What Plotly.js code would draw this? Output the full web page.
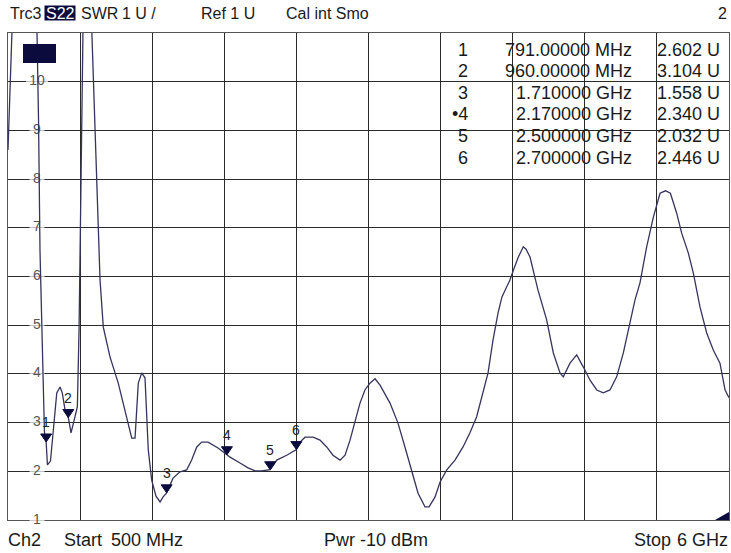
<!DOCTYPE html>
<html><head><meta charset="utf-8">
<script src="https://cdn.plot.ly/plotly-3.0.1.min.js"></script>
<style>html,body{margin:0;padding:0;background:#fff}#chart{width:731px;height:553px}</style>
</head><body><div id="chart"></div>
<script>
// ---- data ----
const freqGHz = [
  0.5, 0.515, 0.53, 0.56, 0.70, 0.72, 0.733, 0.744, 0.759, 0.778,
  0.791, 0.801, 0.824, 0.846, 0.872, 0.897, 0.914, 0.935, 0.96, 0.981,
  1.011, 1.029, 1.042, 1.049, 1.061, 1.072, 1.103, 1.139, 1.171, 1.202,
  1.227, 1.278, 1.341, 1.418, 1.444, 1.469, 1.494, 1.52, 1.545, 1.57,
  1.596, 1.629, 1.66, 1.682, 1.71, 1.759, 1.812, 1.863, 1.901, 1.94,
  1.978, 2.026, 2.064, 2.102, 2.17, 2.194, 2.27, 2.331, 2.384, 2.435,
  2.5, 2.55, 2.626, 2.7, 2.728, 2.766, 2.827, 2.88, 2.931, 2.979,
  3.033, 3.071, 3.109, 3.147, 3.185, 3.223, 3.261, 3.3, 3.338, 3.414,
  3.475, 3.528, 3.58, 3.628, 3.681, 3.712, 3.757, 3.796, 3.847, 3.91,
  3.971, 4.024, 4.075, 4.123, 4.162, 4.2, 4.238, 4.268, 4.329, 4.355,
  4.393, 4.431, 4.452, 4.482, 4.505, 4.543, 4.609, 4.66, 4.711, 4.736,
  4.787, 4.838, 4.889, 4.94, 4.991, 5.041, 5.092, 5.143, 5.194, 5.245,
  5.283, 5.321, 5.372, 5.423, 5.474, 5.515, 5.553, 5.601, 5.639, 5.69,
  5.728, 5.779, 5.83, 5.88, 5.931, 5.97, 6.0
];
const swr = [
  8.6, 9.83, 11.0, 12.0, 12.0, 11.2, 9.21, 6.54, 4.70, 2.81,
  2.602, 2.13, 2.21, 2.85, 3.61, 3.73, 3.61, 3.26, 3.104, 2.79,
  3.12, 3.32, 4.90, 6.54, 9.01, 11.06, 14.0, 11.06, 8.49, 5.93,
  4.96, 4.35, 3.81, 2.99, 2.68, 2.68, 3.81, 4.02, 3.92, 2.44,
  1.82, 1.49, 1.37, 1.47, 1.558, 1.86, 1.99, 2.03, 2.23, 2.50,
  2.60, 2.60, 2.54, 2.48, 2.34, 2.29, 2.17, 2.07, 2.01, 2.01,
  2.032, 2.23, 2.33, 2.446, 2.60, 2.70, 2.70, 2.64, 2.50, 2.33,
  2.23, 2.33, 2.64, 3.05, 3.40, 3.67, 3.81, 3.90, 3.77, 3.40,
  2.99, 2.50, 2.03, 1.55, 1.27, 1.27, 1.47, 1.78, 2.03, 2.23,
  2.50, 2.79, 3.12, 3.61, 4.02, 4.70, 5.25, 5.58, 5.93, 6.13,
  6.40, 6.61, 6.56, 6.40, 6.13, 5.72, 5.11, 4.43, 4.02, 3.94,
  4.22, 4.39, 4.14, 3.87, 3.67, 3.61, 3.67, 3.94, 4.43, 5.05,
  5.52, 5.87, 6.61, 7.22, 7.71, 7.76, 7.71, 7.30, 6.89, 6.48,
  6.07, 5.37, 4.84, 4.49, 4.22, 3.67, 3.51
];
const yTickVals = [1, 2, 3, 4, 5, 6, 7, 8, 9, 10];
const markerIds = [1, 2, 3, 4, 5, 6];
const markerFreqGHz = [0.791, 0.96, 1.71, 2.17, 2.5, 2.7];
const markerSwr = [2.602, 3.104, 1.558, 2.340, 2.032, 2.446];
const activeMarker = 4;
const headerLeft = ['Trc3', 'S22', 'SWR', '1 U /', 'Ref 1 U', 'Cal int Smo'];
const headerRight = '2';
const footerTexts = ['Ch2', 'Start', '500 MHz', 'Pwr -10 dBm', 'Stop', '6 GHz'];

// ---- geometry ----
const W = 731, H = 553, L = 8, R = 2, T = 33, B = 33;
const PW = W - L - R, PH = H - T - B;
const XR = [0.5, 6.0], YR = [1, 11];
const fx = px => (px - L) / PW;
const fy = py => (H - B - py) / PH;
const dataX = px => XR[0] + (px - L) / PW * (XR[1] - XR[0]);

const FONT = 'Liberation Sans, Arial, sans-serif';
const NAVY = '#0b0b3e';
const TXT = '#1a1a1a';

const ann = [];
function txt(text, px, py, anchor, size, color, extra) {
  ann.push(Object.assign({
    text: text, xref: 'paper', yref: 'paper', x: fx(px), y: fy(py),
    xanchor: anchor, yanchor: 'middle', showarrow: false, borderpad: 0,
    font: {family: FONT, size: size, color: color}
  }, extra || {}));
}

// header
const headerX = [9, 60, 80, 121, 200, 285];
headerLeft.forEach((t, i) => {
  if (i === 1) txt(t, headerX[i], 13, 'center', 16, '#ffffff');
  else txt(t, headerX[i], 13, 'left', 16, TXT);
});
txt(headerRight, 728, 13, 'right', 16, TXT);

// footer
const footerPos = [[7, 'left'], [63, 'left'], [110, 'left'], [376, 'center'], [633, 'left'], [729, 'right']];
footerTexts.forEach((t, i) => txt(t, footerPos[i][0], 540, footerPos[i][1], 18, TXT));

// marker table
const rowY0 = 49.5, rowStep = 21.6;
markerIds.forEach((id, i) => {
  const f = markerFreqGHz[i];
  const ftxt = f < 1 ? (f * 1000).toFixed(5) + ' MHz' : f.toFixed(6) + ' GHz';
  const y = rowY0 + rowStep * i;
  txt((id === activeMarker ? '•' : '') + id, 469, y, 'right', 18, TXT);
  txt(ftxt, 633, y, 'right', 18, TXT);
  txt(markerSwr[i].toFixed(3) + ' U', 721, y, 'right', 18, TXT);
});

// marker number labels above triangles
markerIds.forEach((id, i) => {
  ann.push({text: String(id), x: markerFreqGHz[i], y: markerSwr[i], xref: 'x', yref: 'y',
    yshift: 20, showarrow: false, xanchor: 'center', yanchor: 'middle',
    font: {family: FONT, size: 14, color: '#222'}});
});

// shapes
const shapes = [];
markerIds.forEach((id, i) => {
  shapes.push({type: 'path', xref: 'x', yref: 'y', xsizemode: 'pixel', ysizemode: 'pixel',
    xanchor: markerFreqGHz[i], yanchor: markerSwr[i], path: 'M-5.5,8 L5.5,8 L0,0 Z',
    fillcolor: NAVY, line: {color: NAVY, width: 1}, layer: 'above'});
});
// S22 highlight box
shapes.push({type: 'rect', xref: 'paper', yref: 'paper', x0: fx(44.5), x1: fx(75.5), y0: fy(20.5), y1: fy(5.5),
  fillcolor: NAVY, line: {width: 0}, layer: 'below'});
// reference marker box top-left
shapes.push({type: 'rect', xref: 'paper', yref: 'paper', x0: fx(23), x1: fx(56), y0: fy(63), y1: fy(44),
  fillcolor: NAVY, line: {width: 0}, layer: 'above'});
// bottom-right corner triangle
shapes.push({type: 'path', xref: 'paper', yref: 'paper',
  path: 'M' + fx(715) + ',' + fy(520) + ' L' + fx(729) + ',' + fy(520) + ' L' + fx(729) + ',' + fy(512) + ' Z',
  fillcolor: NAVY, line: {width: 0}, layer: 'above'});

const labelTrace = {
  type: 'scatter', mode: 'markers+text', x: yTickVals.map(() => dataX(37)), y: yTickVals,
  text: yTickVals.map(String), textposition: 'middle center',
  textfont: {family: FONT, size: 14, color: '#555'},
  marker: {symbol: 'square', color: '#ffffff', size: yTickVals.map(v => String(v).length > 1 ? 22 : 15), line: {width: 0}},
  cliponaxis: false, hoverinfo: 'skip', showlegend: false
};
const curve = {
  type: 'scatter', mode: 'lines', x: freqGHz, y: swr,
  line: {color: '#34345e', width: 1.3, shape: 'linear'},
  hoverinfo: 'skip', showlegend: false
};

const axisCommon = {showticklabels: false, ticks: '', showgrid: true, gridcolor: '#2a2a2a', gridwidth: 1,
  zeroline: false, showline: true, mirror: true, linecolor: '#555', linewidth: 1, layer: 'below traces', fixedrange: true};

const layout = {
  width: W, height: H, margin: {l: L, r: R, t: T, b: B, pad: 0},
  paper_bgcolor: '#ffffff', plot_bgcolor: '#ffffff', showlegend: false,
  xaxis: Object.assign({range: XR, tick0: 0.5, dtick: 0.55}, axisCommon),
  yaxis: Object.assign({range: YR, tick0: 1, dtick: 1}, axisCommon),
  annotations: ann, shapes: shapes
};
Plotly.newPlot('chart', [labelTrace, curve], layout, {staticPlot: true, displayModeBar: false});
</script></body></html>
